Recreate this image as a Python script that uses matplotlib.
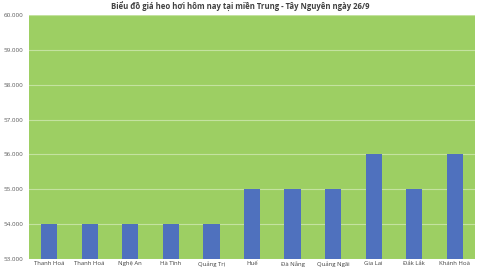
import matplotlib.pyplot as plt
from matplotlib.ticker import FuncFormatter

# Giá heo hơi (đồng/kg) theo tỉnh
provinces = ["Thanh Hoá", "Thanh Hoá", "Nghệ An", "Hà Tĩnh", "Quảng Trị", "Huế",
             "Đà Nẵng", "Quảng Ngãi", "Gia Lai", "Đắk Lắk", "Khánh Hoà"]
prices = [54000, 54000, 54000, 54000, 54000, 55000, 55000, 55000, 56000, 55000, 56000]
yticks = [53000, 54000, 55000, 56000, 57000, 58000, 59000, 60000]

plt.rcParams['font.family'] = ['Open Sans', 'DejaVu Sans']

fig = plt.figure(figsize=(4.8, 2.7), dpi=100)
ax = fig.add_axes([0.06, 0.041, 0.93, 0.903])
ax.set_facecolor('#9dcf63')

x = range(len(provinces))
ax.bar(x, prices, width=0.4, color='#4f71be', zorder=3)

ax.set_ylim(53000, 60000)
ax.set_xlim(-0.5, len(provinces) - 0.5)
ax.set_yticks(yticks)
ax.yaxis.set_major_formatter(FuncFormatter(lambda v, p: f"{int(v):,}".replace(",", ".")))
ax.grid(axis='y', color='#c4e2a0', linewidth=0.8, zorder=1)

ax.set_xticks(list(x))
ax.set_xticklabels(provinces, fontsize=4.3, color='#404040')
ax.tick_params(axis='y', labelsize=4.5, labelcolor='#595959', length=0, pad=4)
ax.tick_params(axis='x', length=0, pad=1.5)
for s in ax.spines.values():
    s.set_visible(False)

fig.text(0.5, 0.976, "Biểu đồ giá heo hơi hôm nay tại miền Trung - Tây Nguyên ngày 26/9",
         ha='center', va='center', fontsize=5.6, fontweight='bold', color='#404040')

fig.savefig("out.png", dpi=100, facecolor='white')
